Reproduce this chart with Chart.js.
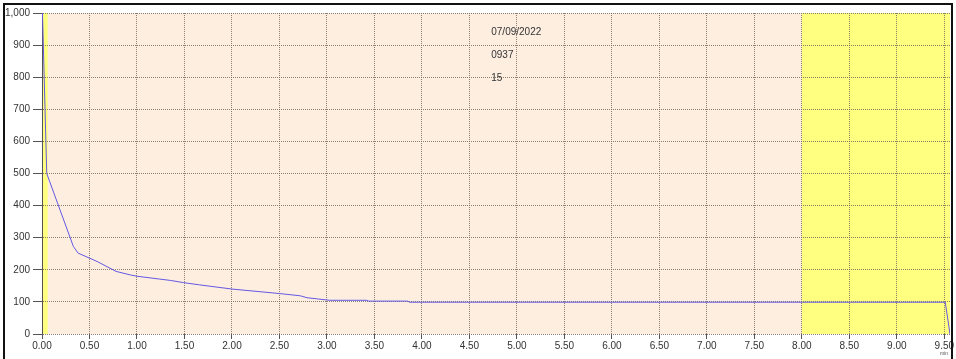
<!DOCTYPE html>
<html>
<head>
<meta charset="utf-8">
<script src="https://cdn.jsdelivr.net/npm/chart.js@4"></script>
<style>
  html, body { margin: 0; padding: 0; background: #fff; }
  #wrap { width: 956px; height: 359px; position: relative; }
</style>
</head>
<body>
<div id="wrap"><canvas id="chart" width="956" height="359"></canvas></div>
<script>
// curve (x in units of the bottom axis)
const timeValues = [0.005, 0.05, 0.33, 0.38, 0.58, 0.78, 0.93, 1.00, 1.24, 1.35, 1.49, 1.66, 2.00, 2.50, 2.72, 2.79, 2.91, 3.03, 3.42, 3.44, 3.85, 3.87, 9.51, 9.56];
const flowValues = [1000, 500, 273, 252, 226, 195, 184, 180, 171, 167, 160, 153, 140, 126, 119, 113, 109, 105, 105, 102.5, 102.5, 99, 99, 0];

// highlighted ranges on the x axis
const bandStarts = [0.0, 8.0];
const bandEnds = [0.06, 9.56];

// header text shown inside the plot
const noteLines = ['07/09/2022', '0937', '15'];
const noteX = 4.73;
const noteY = [940, 868, 797];

const xMax = 9.56;
const yMax = 1000;

const FONT = { family: '"Liberation Sans", Arial, sans-serif', size: 10 };
const gridColor = 'rgba(110, 98, 86, 0.8)';

const backdropPlugin = {
  id: 'backdrop',
  beforeDraw(chart) {
    const { ctx, chartArea: a, scales } = chart;
    ctx.save();
    ctx.fillStyle = '#fdeee0';
    ctx.fillRect(a.left, a.top, a.right - a.left, a.bottom - a.top);
    ctx.fillStyle = '#ffff80';
    bandStarts.forEach((start, i) => {
      const x0 = scales.x.getPixelForValue(start);
      const x1 = scales.x.getPixelForValue(bandEnds[i]);
      ctx.fillRect(x0, a.top, x1 - x0, a.bottom - a.top);
    });
    ctx.restore();
  },
  afterDraw(chart) {
    const { ctx, scales } = chart;
    ctx.save();
    ctx.fillStyle = '#333';
    ctx.font = `10px ${FONT.family}`;
    ctx.textBaseline = 'middle';
    noteLines.forEach((text, i) => {
      ctx.fillText(text, scales.x.getPixelForValue(noteX), scales.y.getPixelForValue(noteY[i]));
    });
    // unit label under the last tick
    ctx.font = `5px ${FONT.family}`;
    ctx.fillStyle = '#555';
    ctx.fillText('min', 940, 354);
    // outer frame
    ctx.strokeStyle = '#111';
    ctx.lineWidth = 2;
    ctx.beginPath();
    ctx.moveTo(4, 360);
    ctx.lineTo(4, 4);
    ctx.lineTo(952, 4);
    ctx.lineTo(952, 360);
    ctx.stroke();
    ctx.restore();
  },
};

const chart = new Chart(document.getElementById('chart'), {
  type: 'line',
  data: {
    datasets: [{
      data: timeValues.map((t, i) => ({ x: t, y: flowValues[i] })),
      borderColor: '#6459e4',
      borderWidth: 1,
      pointRadius: 0,
      tension: 0,
      fill: false,
    }],
  },
  options: {
    responsive: false,
    animation: false,
    layout: { padding: { left: 0, top: 13, right: 6, bottom: 0 } },
    plugins: { legend: { display: false }, tooltip: { enabled: false } },
    scales: {
      x: {
        type: 'linear',
        min: 0,
        max: xMax,
        grid: { color: gridColor, tickLength: 5, tickColor: '#555', tickBorderDash: [] },
        border: { display: false, dash: [1, 1] },
        ticks: {
          stepSize: 0.5,
          includeBounds: false,
          autoSkip: false,
          maxRotation: 0,
          padding: 1,
          color: '#333',
          font: FONT,
          callback: (v) => Number(v).toFixed(2),
        },
        afterFit: (scale) => { scale.height = 25; },
      },
      y: {
        min: 0,
        max: yMax,
        grid: { color: gridColor, tickLength: 9, tickColor: '#555', tickBorderDash: [] },
        border: { display: true, color: '#555', width: 1, dash: [1, 1] },
        ticks: {
          stepSize: 100,
          padding: 3,
          color: '#333',
          font: FONT,
          callback: (v) => Number(v).toLocaleString('en-US'),
        },
        afterFit: (scale) => { scale.width = 42; },
      },
    },
  },
  plugins: [backdropPlugin],
});
</script>
</body>
</html>
